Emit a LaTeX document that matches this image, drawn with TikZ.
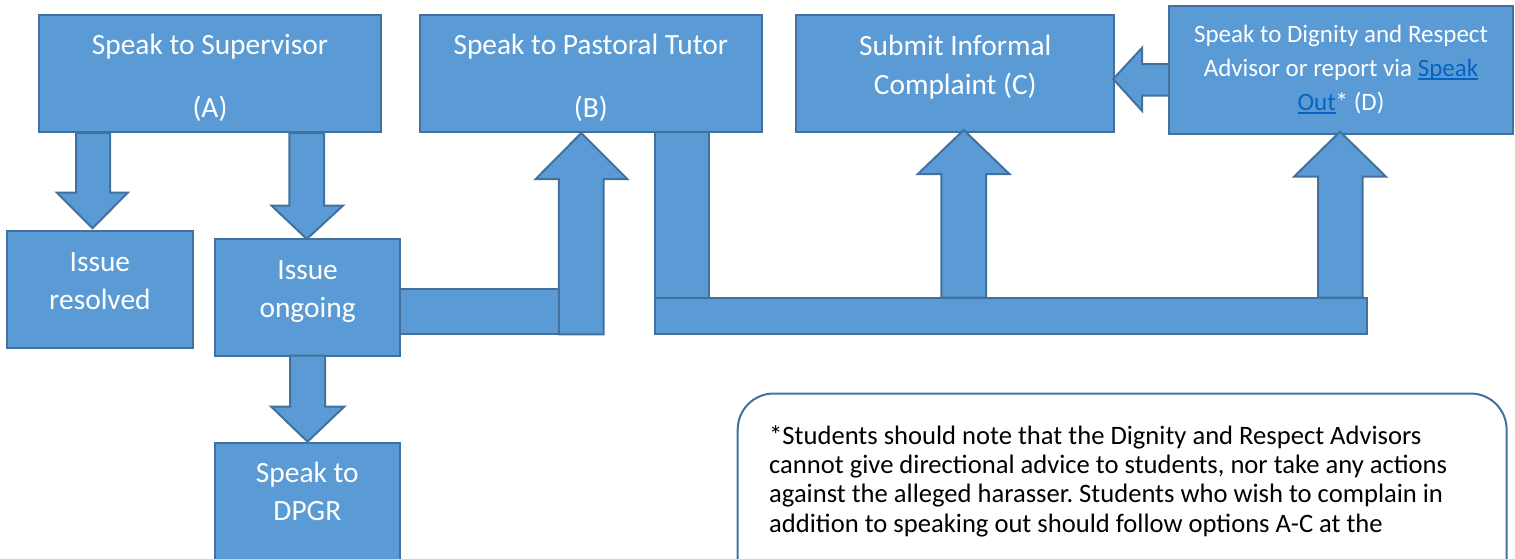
\documentclass[tikz,border=0pt]{standalone}
\usepackage{fontspec}
\setmainfont{Carlito}
\definecolor{boxblue}{HTML}{5B9BD5}
\definecolor{edgeblue}{HTML}{41719C}
\definecolor{linkblue}{HTML}{0563C1}
\newcommand\mylink[1]{{\color{linkblue}\setbox0=\hbox{#1}\rlap{\rule[-3.5pt]{\wd0}{1.8pt}}\box0}}
\frenchspacing
\begin{document}
\begin{tikzpicture}[x=1pt,y=-1pt,
  box/.style={draw=edgeblue,fill=boxblue,line width=2pt,inner sep=0pt},
  boxtext/.style={text=white,align=center,inner sep=0pt,font=\fontsize{29.4}{38}\selectfont},
  barr/.style={draw=edgeblue,fill=boxblue,line width=2pt,line join=miter},
  notebox/.style={draw=edgeblue,fill=white,line width=2pt,rounded corners=36pt,inner sep=0pt},
  ]
\useasboundingbox (0,0) rectangle (1515,558);
\clip (0,0) rectangle (1515,558);
% boxes
\node[box,minimum width=342.8pt,minimum height=116.7pt] (A) at (210,73.35) {};
\node[boxtext] (Atxt) at (210,78) {Speak to Supervisor\\[25.4pt](A)};
\node[box,minimum width=341.7pt,minimum height=116.7pt] (B) at (590.85,73.35) {};
\node[boxtext] (Btxt) at (590.85,78) {Speak to Pastoral Tutor\\[25.4pt](B)};
\node[box,minimum width=318pt,minimum height=116.7pt] (C) at (955.3,73.35) {};
\node[boxtext,font=\fontsize{29.4}{39}\selectfont] (Ctxt) at (955.3,67) {Submit Informal\\Complaint (C)};
\node[box,minimum width=185.8pt,minimum height=116.7pt] (res) at (99.9,289.35) {};
\node[boxtext] (restxt) at (99.9,281.35) {Issue\\resolved};
\node[box,minimum width=184.8pt,minimum height=116.4pt] (ong) at (307.6,297.5) {};
\node[boxtext] (ongtxt) at (307.6,291.5) {Issue\\ongoing};
\node[box,minimum width=184.5pt,minimum height=118pt] (dpgr) at (307.35,501.7) {};
\node[boxtext] (dpgrtxt) at (307.35,491.2) {Speak to\\DPGR};
% arrow D -> C (under D)
\draw[barr] (1172,64) -- (1142.2,64) -- (1142.2,47.7) -- (1113.2,79) -- (1142.2,111) -- (1142.2,95.7) -- (1172,95.7);
\node[box,minimum width=344pt,minimum height=128.6pt] (D) at (1341,70) {};
\node[boxtext,font=\fontsize{25}{34}\selectfont] (Dtxt) at (1341,69.5)
  {Speak to Dignity and Respect\\Advisor or report via \mylink{Speak}\\\mylink{Out}* (D)};
% A -> resolved
\draw[barr] (76,133) -- (110,133) -- (110,192.7) -- (127.7,192.7) -- (92.5,228.3) -- (57,192.7) -- (76,192.7) -- cycle;
% A -> ongoing
\draw[barr] (289.4,133) -- (324.2,133) -- (324.2,205.7) -- (342.9,205.7) -- (306.8,239) -- (271.6,205.7) -- (289.4,205.7) -- cycle;
% ongoing -> DPGR
\draw[barr] (290,355.7) -- (325,355.7) -- (325,406.7) -- (344.2,406.7) -- (307.5,441.7) -- (271.3,406.7) -- (290,406.7) -- cycle;
% ongoing -> B
\draw[barr] (400,289.3) rectangle (558.9,334.3);
\draw[barr] (558.9,334.3) -- (603.6,334.3) -- (603.6,179) -- (627.3,179) -- (581.3,133) -- (535.7,179) -- (558.9,179) -- cycle;
% B -> C, D
\draw[barr] (655,131.7) rectangle (708.6,297.7);
\draw[barr] (941.3,297.7) -- (986,297.7) -- (986,174) -- (1009.4,174) -- (963.7,130) -- (917.9,174) -- (941.3,174) -- cycle;
\draw[barr] (1318,297.7) -- (1362.7,297.7) -- (1362.7,176.7) -- (1386,176.7) -- (1340,131.7) -- (1294,176.7) -- (1318,176.7) -- cycle;
\draw[barr] (655,297.7) rectangle (1367,334.3);
% note
\node[notebox,minimum width=768.9pt,minimum height=330pt,anchor=north west] (note) at (736.7,392.5) {};
\node[anchor=base west,align=left,inner sep=0pt,font=\fontsize{26.6}{29.2}\selectfont] (notetxt) at (769,532)
  {*Students should note that the Dignity and Respect Advisors\\
   cannot give directional advice to students, nor take any actions\\
   against the alleged harasser. Students who wish to complain in\\
   addition to speaking out should follow options A-C at the};
\end{tikzpicture}
\end{document}
